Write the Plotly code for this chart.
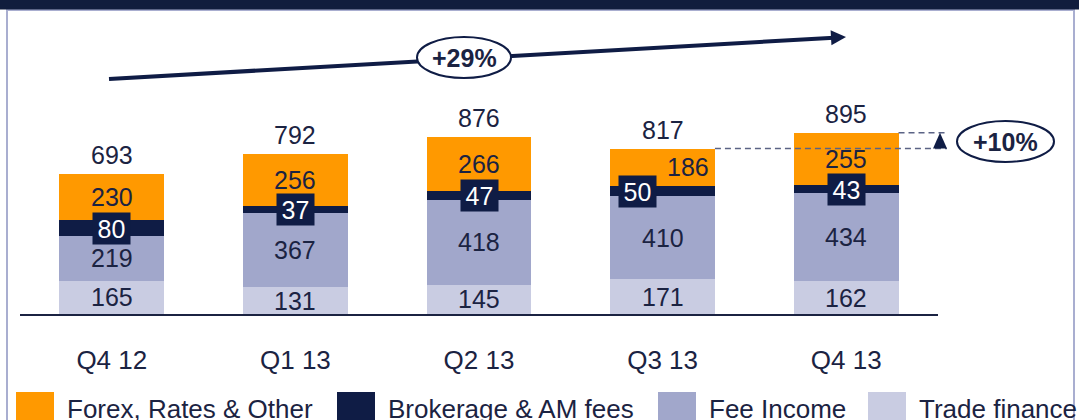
import math
import plotly.graph_objects as go

# ---------------- data ----------------
categories = ["Q4 12", "Q1 13", "Q2 13", "Q3 13", "Q4 13"]
trade_finance = [165, 131, 145, 171, 162]
fee_income = [219, 367, 418, 410, 434]
brokerage = [80, 37, 47, 50, 43]
forex = [230, 256, 266, 186, 255]
totals = [693, 792, 876, 817, 895]
growth_total = "+29%"
growth_qoq = "+10%"
series_names = ["Trade finance", "Fee Income", "Brokerage & AM fees", "Forex, Rates & Other"]
legend_order = ["Forex, Rates & Other", "Brokerage & AM fees", "Fee Income", "Trade finance"]

# ---------------- style ----------------
C_ORANGE = "#FF9900"
C_NAVY = "#0F1C45"
C_FEE = "#A1A7CB"
C_TRADE = "#C9CCE2"
C_TEXT = "#1B2342"
C_FRAME = "#A9AED0"
C_DASH = "#5B6385"
FONT = "Liberation Sans, Arial, sans-serif"
colors = {"Trade finance": C_TRADE, "Fee Income": C_FEE,
          "Brokerage & AM fees": C_NAVY, "Forex, Rates & Other": C_ORANGE}
values = {"Trade finance": trade_finance, "Fee Income": fee_income,
          "Brokerage & AM fees": brokerage, "Forex, Rates & Other": forex}

W, H = 1079, 420
ML, MR, MT, MB = 20, 141, 30, 106
PW, PH = W - ML - MR, H - MT - MB
YMAX = 1403
BAR_W = 0.57
N = len(categories)


def px(x):
    return (x - ML) / PW


def py(y):
    return (H - MB - y) / PH


fig = go.Figure()
for name in series_names:
    fig.add_trace(go.Bar(x=categories, y=values[name], name=name,
                         marker=dict(color=colors[name], line=dict(width=0)),
                         width=BAR_W, showlegend=False, hoverinfo="skip"))

annotations = []
shapes = []

# segment labels
forex_xshift = [0, 0, 0, 25, 0]
brok_xshift = [0, 0, 0, -25, 0]
for i in range(N):
    base = 0
    for name in series_names:
        v = values[name][i]
        mid = base + v / 2
        if name == "Brokerage & AM fees":
            annotations.append(dict(x=i, y=mid, xref="x", yref="y", text=str(v),
                                    showarrow=False, font=dict(family=FONT, size=25, color="white"),
                                    bgcolor=C_NAVY, width=37, height=31, borderpad=0,
                                    xanchor="center", yanchor="middle", xshift=brok_xshift[i], yshift=-0.5))
        else:
            xs = forex_xshift[i] if name == "Forex, Rates & Other" else 0
            annotations.append(dict(x=i, y=mid, xref="x", yref="y", text=str(v),
                                    showarrow=False, font=dict(family=FONT, size=25, color=C_TEXT),
                                    xanchor="center", yanchor="middle", xshift=xs))
        base += v
    annotations.append(dict(x=i, y=totals[i], xref="x", yref="y", text=str(totals[i]),
                            showarrow=False, font=dict(family=FONT, size=25, color=C_TEXT),
                            xanchor="center", yanchor="middle", yshift=19))

# frame
shapes.append(dict(type="rect", xref="paper", yref="paper", x0=px(7), x1=px(1074), y0=py(440), y1=py(10),
                   line=dict(color=C_FRAME, width=2), fillcolor="rgba(0,0,0,0)", layer="below"))
shapes.append(dict(type="rect", xref="paper", yref="paper", x0=px(-5), x1=px(1090), y0=py(9.5), y1=py(-5),
                   line=dict(width=0), fillcolor="#111D3D", layer="above"))

# big growth arrow
sx, sy = 109, 79
tx, ty = 846, 37
L = math.hypot(tx - sx, ty - sy)
dx, dy = (tx - sx) / L, (ty - sy) / L
head_len, head_half = 15, 7.5
bx, by = tx - head_len * dx, ty - head_len * dy
nx, ny = -dy, dx
shapes.append(dict(type="line", xref="paper", yref="paper", x0=px(sx), y0=py(sy),
                   x1=px(bx + 3 * dx), y1=py(by + 3 * dy), line=dict(color=C_NAVY, width=4)))
p1 = (bx + head_half * nx, by + head_half * ny)
p2 = (bx - head_half * nx, by - head_half * ny)
shapes.append(dict(type="path", xref="paper", yref="paper",
                   path=f"M {px(tx)},{py(ty)} L {px(p1[0])},{py(p1[1])} L {px(p2[0])},{py(p2[1])} Z",
                   fillcolor=C_NAVY, line=dict(width=0)))
shapes.append(dict(type="circle", xref="paper", yref="paper", x0=px(417), x1=px(511), y0=py(78), y1=py(37),
                   fillcolor="white", line=dict(color=C_NAVY, width=2)))
annotations.append(dict(x=px(464), y=py(57.5), xref="paper", yref="paper", text=growth_total,
                        showarrow=False, font=dict(family=FONT, size=25, color=C_TEXT, weight="bold"),
                        xanchor="center", yanchor="middle"))

# q-o-q comparison
end_x = px(947)
shapes.append(dict(type="line", xref="paper", yref="y", x0=(3 + 0.5 + BAR_W / 2) / N, x1=end_x,
                   y0=totals[3], y1=totals[3], line=dict(color=C_DASH, width=1.5, dash="6px,4px")))
shapes.append(dict(type="line", xref="paper", yref="y", x0=(4 + 0.5 + BAR_W / 2) / N, x1=end_x,
                   y0=totals[4], y1=totals[4], line=dict(color=C_DASH, width=1.5, dash="6px,4px")))
shapes.append(dict(type="path", xref="paper", yref="y",
                   path=f"M {px(933)},{totals[3]} L {px(947)},{totals[3]} L {px(940)},{totals[4]} Z",
                   fillcolor=C_NAVY, line=dict(width=0)))
shapes.append(dict(type="circle", xref="paper", yref="paper", x0=px(957), x1=px(1054), y0=py(162), y1=py(121),
                   fillcolor="white", line=dict(color=C_NAVY, width=2)))
annotations.append(dict(x=px(1005.5), y=py(142), xref="paper", yref="paper", text=growth_qoq,
                        showarrow=False, font=dict(family=FONT, size=25, color=C_TEXT, weight="bold"),
                        xanchor="center", yanchor="middle"))

# manual legend (large square swatches)
legend_sq_x = [16, 337, 658, 868]
for name, lx in zip(legend_order, legend_sq_x):
    shapes.append(dict(type="rect", xref="paper", yref="paper", x0=px(lx), x1=px(lx + 38),
                       y0=py(440), y1=py(392), fillcolor=colors[name], line=dict(width=0)))
    annotations.append(dict(x=px(lx + 49), y=py(409), xref="paper", yref="paper", text=name,
                            showarrow=False, font=dict(family=FONT, size=26, color=C_TEXT),
                            xanchor="left", yanchor="middle"))

fig.update_layout(
    template="none",
    width=W, height=H,
    margin=dict(l=ML, r=MR, t=MT, b=MB, pad=0),
    barmode="stack",
    paper_bgcolor="white", plot_bgcolor="white",
    showlegend=False,
    font=dict(family=FONT, color=C_TEXT),
    xaxis=dict(type="category", range=[-0.5, N - 0.5], showline=True, linecolor=C_TEXT, linewidth=2,
               showgrid=False, zeroline=False, ticks="", automargin=False,
               tickfont=dict(family=FONT, size=26, color=C_TEXT), ticklabelstandoff=22),
    yaxis=dict(range=[0, YMAX], visible=False, showgrid=False, zeroline=False, automargin=False),
    annotations=annotations,
    shapes=shapes,
)

fig.write_html("out.html", config={"displayModeBar": False},
               post_script="document.body.style.margin='0px'; document.body.style.overflow='hidden';")
